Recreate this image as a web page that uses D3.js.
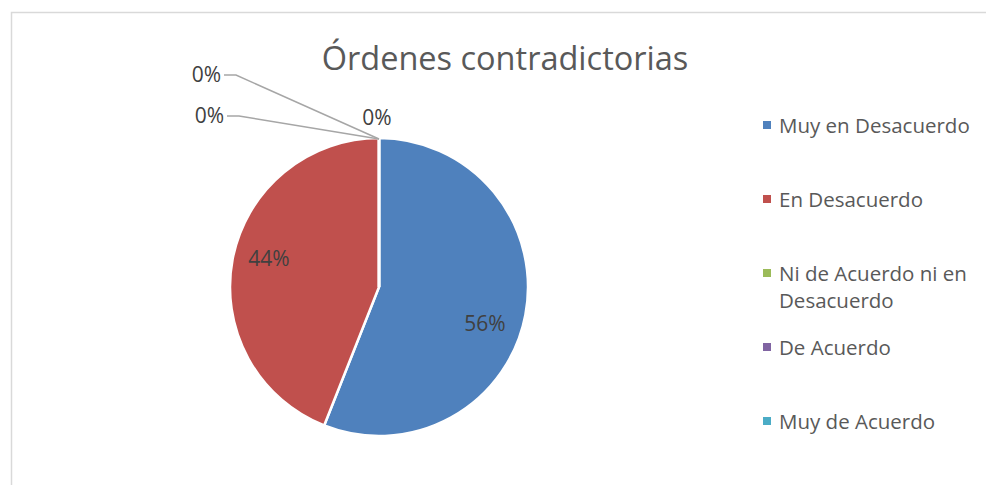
<!DOCTYPE html>
<html>
<head>
<meta charset="utf-8">
<script src="https://cdn.jsdelivr.net/npm/d3@7"></script>
<style>
  body { margin: 0; background: #fff; }
  svg { display: block; font-family: "Open Sans", "Noto Sans", sans-serif; }
</style>
</head>
<body>
<svg id="chart" width="987" height="485"></svg>
<script>
// chart data
var title = "Órdenes contradictorias";
var categories = ["Muy en Desacuerdo", "En Desacuerdo", "Ni de Acuerdo ni en Desacuerdo", "De Acuerdo", "Muy de Acuerdo"];
var values = [56, 44, 0, 0, 0];
var colors = ["#4f81bd", "#c0504d", "#9bbb59", "#8064a2", "#4bacc6"];

var svg = d3.select("#chart");
var cx = 379, cy = 287, radius = 149;

// frame
svg.append("path")
    .attr("d", "M11.5,485 L11.5,12.5 L986,12.5")
    .attr("fill", "none")
    .attr("stroke", "#d9d9d9")
    .attr("stroke-width", 1.5);

svg.append("text")
    .attr("x", 505)
    .attr("y", 70)
    .attr("text-anchor", "middle")
    .attr("font-size", 32.5)
    .attr("fill", "#595959")
    .text(title);

var pie = d3.pie().sort(null).value(function(d) { return d; });
var arcs = pie(values);
var arc = d3.arc().innerRadius(0).outerRadius(radius);

var g = svg.append("g").attr("transform", "translate(" + cx + "," + cy + ")");

g.selectAll("path")
    .data(arcs)
    .enter().append("path")
    .attr("d", arc)
    .attr("fill", function(d, i) { return colors[i]; })
    .attr("stroke", "#fff")
    .attr("stroke-width", 2.5);

// labels for the non-zero slices sit inside the pie
var inner = d3.arc().innerRadius(113).outerRadius(113);
var fmt = function(v) { return Math.round(v / d3.sum(values) * 100) + "%"; };

var nudge = [[-5, 15], [1, -7]];
g.selectAll("text.inlabel")
    .data(arcs.filter(function(d) { return d.value > 0; }))
    .enter().append("text")
    .attr("class", "inlabel")
    .attr("x", function(d, i) { return inner.centroid(d)[0] + nudge[i][0]; })
    .attr("y", function(d, i) { return inner.centroid(d)[1] + nudge[i][1]; })
    .attr("dy", "0.35em")
    .attr("text-anchor", "middle")
    .attr("font-size", 21)
    .attr("fill", "#404040")
    .text(function(d) { return fmt(d.value); });

// zero slices: labels outside, two with leader lines
var zeroArcs = arcs.filter(function(d) { return d.value === 0; });
var zeroPos = [[-158, -205, true], [-155, -164, true], [-2, -162, false]];
zeroArcs.forEach(function(d, i) {
  var p = zeroPos[i];
  var a = d.startAngle;
  var ex = (radius - 1) * Math.sin(a), ey = -(radius - 1) * Math.cos(a);
  if (p[2]) {
    g.append("polyline")
        .attr("points", [[p[0] + 3, p[1] - 7], [p[0] + 15, p[1] - 7], [ex, ey]].map(function(q) { return q.join(","); }).join(" "))
        .attr("fill", "none")
        .attr("stroke", "#a6a6a6")
        .attr("stroke-width", 1.5);
  }
  g.append("text")
      .attr("x", p[0])
      .attr("y", p[1])
      .attr("text-anchor", p[2] ? "end" : "middle")
      .attr("font-size", 21)
      .attr("fill", "#404040")
      .text(fmt(d.value));
});

// legend
var legendY = d3.scalePoint().domain(categories).range([125, 421]);
var legend = svg.append("g");
var item = legend.selectAll("g")
    .data(categories)
    .enter().append("g")
    .attr("transform", function(d) { return "translate(763," + legendY(d) + ")"; });

item.append("rect")
    .attr("x", 0).attr("y", -4)
    .attr("width", 8).attr("height", 8)
    .attr("fill", function(d, i) { return colors[i]; });

item.append("text")
    .attr("x", 16)
    .attr("y", 7.5)
    .attr("font-size", 20.5)
    .attr("fill", "#595959")
    .each(function(d) {
      var t = d3.select(this);
      var lines = d === "Ni de Acuerdo ni en Desacuerdo" ? ["Ni de Acuerdo ni en", "Desacuerdo"] : [d];
      lines.forEach(function(l, j) {
        t.append("tspan").attr("x", 16).attr("dy", j ? 27 : 0).text(l);
      });
    });
</script>
</body>
</html>
